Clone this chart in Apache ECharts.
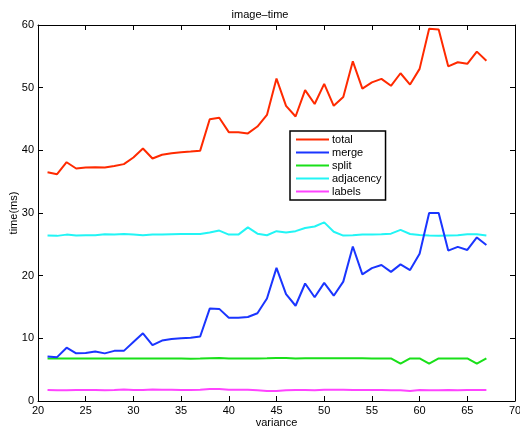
<!DOCTYPE html>
<html>
<head>
<meta charset="utf-8">
<script src="https://cdn.jsdelivr.net/npm/echarts@6/dist/echarts.min.js"></script>
<style>html,body{margin:0;padding:0;background:#fff}#c{width:520px;height:428px}</style>
</head>
<body>
<div id="c"></div>
<script>
var variance = [21,22,23,24,25,26,27,28,29,30,31,32,33,34,35,36,37,38,39,40,41,42,43,44,45,46,47,48,49,50,51,52,53,54,55,56,57,58,59,60,61,62,63,64,65,66,67];
var total = [36.5,36.2,38.1,37.1,37.25,37.3,37.25,37.5,37.8,38.85,40.3,38.7,39.3,39.55,39.7,39.8,39.95,44.95,45.2,42.9,42.9,42.7,43.8,45.65,51.45,47.1,45.4,49.6,47.4,50.6,47.1,48.5,54.2,49.85,50.85,51.4,50.3,52.3,50.5,53.0,59.4,59.3,53.4,54.05,53.8,55.75,54.3];
var merge = [7.1,7.0,8.5,7.6,7.65,7.9,7.6,8.0,8.0,9.4,10.8,8.9,9.65,9.9,10.0,10.1,10.3,14.75,14.7,13.3,13.3,13.4,14.0,16.35,21.25,17.05,15.2,18.75,16.55,18.85,16.8,19.05,24.65,20.2,21.2,21.7,20.6,21.8,20.9,23.5,30.0,30.0,24.0,24.6,24.1,26.1,24.9];
var split = [6.8,6.8,6.8,6.8,6.8,6.8,6.8,6.8,6.8,6.8,6.8,6.8,6.8,6.8,6.78,6.75,6.78,6.82,6.85,6.8,6.78,6.8,6.8,6.82,6.85,6.85,6.8,6.82,6.84,6.84,6.84,6.82,6.82,6.82,6.8,6.8,6.8,5.95,6.8,6.8,5.95,6.8,6.8,6.8,6.8,5.95,6.8];
var adjacency = [26.4,26.35,26.55,26.4,26.45,26.45,26.6,26.55,26.65,26.55,26.45,26.55,26.55,26.6,26.65,26.65,26.65,26.9,27.2,26.55,26.55,27.7,26.7,26.45,27.1,26.9,27.1,27.6,27.85,28.5,27.0,26.4,26.45,26.55,26.55,26.6,26.7,27.3,26.65,26.5,26.4,26.35,26.4,26.45,26.6,26.6,26.4];
var labels = [1.75,1.7,1.7,1.75,1.75,1.75,1.7,1.75,1.85,1.75,1.75,1.85,1.8,1.8,1.75,1.75,1.8,1.9,1.9,1.8,1.8,1.8,1.7,1.6,1.6,1.7,1.75,1.75,1.7,1.8,1.8,1.8,1.75,1.75,1.75,1.75,1.7,1.7,1.6,1.75,1.7,1.7,1.75,1.7,1.75,1.75,1.75];
var seriesNames = ['total','merge','split','adjacency','labels'];
var seriesColors = ['#ff2a00','#1a35ff','#19e019','#22f5f5','#ff44ff'];
var title = 'image\u2013time';
var xName = 'variance';
var yName = 'time(ms)';

var dataSets = [total, merge, split, adjacency, labels];
var font = 'Liberation Sans, Arial, Helvetica, sans-serif';
var chart = echarts.init(document.getElementById('c'), null, {renderer:'canvas'});
function pairs(arr){ return variance.map(function(x,i){ return [x, arr[i]]; }); }
var baseAxis = {
  axisLine:{show:true, onZero:false, lineStyle:{color:'#000', width:1}},
  axisTick:{show:true, inside:true, length:5, lineStyle:{color:'#000'}},
  splitLine:{show:false}
};
chart.setOption({
  animation:false,
  backgroundColor:'#fff',
  title:{text:title, left:'center', top:4, textStyle:{fontFamily:font, fontSize:11, fontWeight:'normal', color:'#000'}},
  grid:{left:38, right:5, top:25, bottom:27, containLabel:false, outerBoundsMode:'none'},
  legend:{
    orient:'vertical', left:290, top:131, itemWidth:33, itemHeight:2, itemGap:2,
    icon:'rect', backgroundColor:'#fff', borderColor:'#000', borderWidth:1.5,
    padding:[3,4,3,6],
    textStyle:{fontFamily:font, fontSize:11, color:'#000', padding:[0,0,0,-2]},
    data:seriesNames
  },
  xAxis:[
    Object.assign({}, baseAxis, {type:'value', min:20, max:70, interval:5, position:'bottom',
      name:xName, nameLocation:'middle', nameGap:16, nameMoveOverlap:false, nameTextStyle:{fontFamily:font, fontSize:11, color:'#000'},
      axisLabel:{fontFamily:font, fontSize:11, color:'#000', margin:4}}),
    Object.assign({}, baseAxis, {type:'value', min:20, max:70, interval:5, position:'top', axisLabel:{show:false}})
  ],
  yAxis:[
    Object.assign({}, baseAxis, {type:'value', min:0, max:60, interval:10, position:'left',
      name:yName, nameLocation:'middle', nameGap:19, nameMoveOverlap:false, nameTextStyle:{fontFamily:font, fontSize:11, color:'#000'},
      axisLabel:{fontFamily:font, fontSize:11, color:'#000', margin:4}}),
    Object.assign({}, baseAxis, {type:'value', min:0, max:60, interval:10, position:'right', axisLabel:{show:false}})
  ],
  series: seriesNames.map(function(n,i){
    return {name:n, type:'line', data:pairs(dataSets[i]), showSymbol:false, symbol:'none',
      lineStyle:{color:seriesColors[i], width:2}, itemStyle:{color:seriesColors[i]}, z:10-i};
  })
});
</script>
</body>
</html>
